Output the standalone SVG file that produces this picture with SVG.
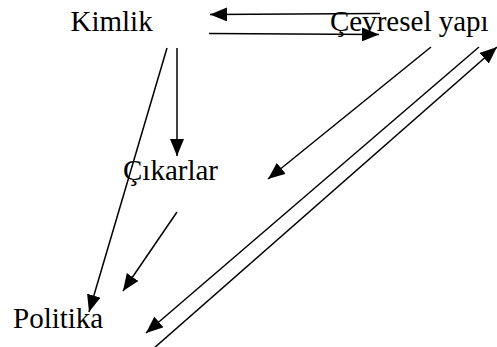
<svg xmlns="http://www.w3.org/2000/svg" width="497" height="347" viewBox="0 0 497 347">
<defs>
<style>
.t{font-family:'Liberation Serif','Times New Roman',Times,serif;font-size:29px;fill:#000}
.c line{stroke:#000;stroke-width:1.5;fill:none;marker-end:url(#ah)}
</style>
<marker id="ah" markerUnits="userSpaceOnUse" markerWidth="18" markerHeight="14" refX="17" refY="7" orient="auto">
<path d="M0,0 L17,7 L0,14 z" fill="#000"/>
</marker>
</defs>
<rect width="497" height="347" fill="#fff"/>
<g id="kimlik"><text class="t" font-family="Liberation Serif, serif" x="70.5" y="31">Kimlik</text></g>
<g id="cevresel"><text class="t" font-family="Liberation Serif, serif" x="330" y="31">Çevresel yapı</text></g>
<g id="cikarlar"><text class="t" font-family="Liberation Serif, serif" x="123" y="180">Çıkarlar</text></g>
<g id="politika"><text class="t" font-family="Liberation Serif, serif" x="13" y="328">Politika</text></g>
<g class="c" id="connectors">
<line x1="380" y1="13.5" x2="210" y2="14.5"/>
<line x1="209" y1="33.5" x2="379" y2="34.5"/>
<line x1="167" y1="48" x2="89" y2="312"/>
<line x1="177" y1="48" x2="177" y2="156"/>
<line x1="431" y1="47" x2="268" y2="179"/>
<line x1="177" y1="212" x2="123" y2="291"/>
<line x1="479" y1="47" x2="146" y2="333"/>
<line x1="153" y1="349" x2="497" y2="47"/>
</g>
</svg>
